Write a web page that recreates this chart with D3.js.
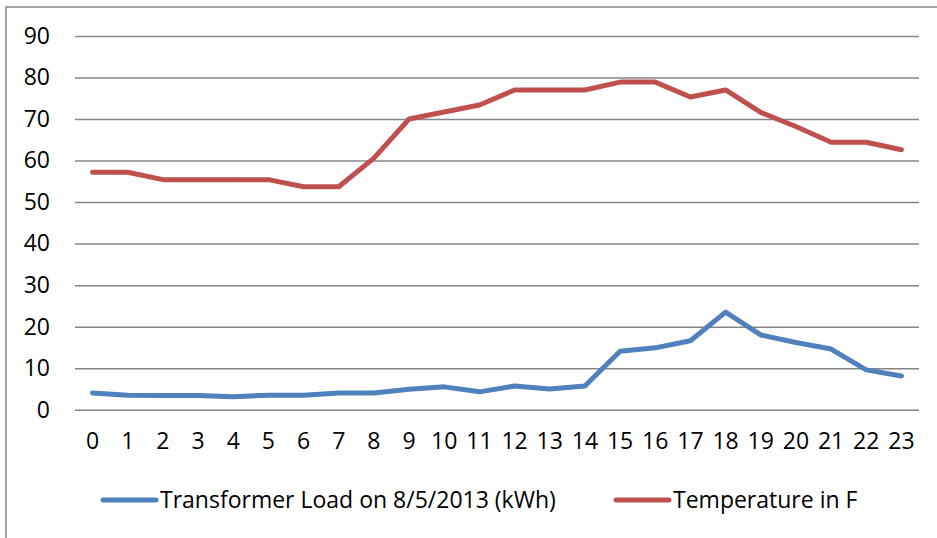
<!DOCTYPE html>
<html>
<head>
<meta charset="utf-8">
<script src="https://cdn.jsdelivr.net/npm/d3@7"></script>
<style>
  body { margin: 0; background: #fff; }
  text { font-family: "Open Sans", sans-serif; fill: #000; }
</style>
</head>
<body>
<svg id="chart"></svg>
<script>
const hours = d3.range(0, 24).map(String);
const loadKwh = [4.0, 3.5, 3.4, 3.4, 3.1, 3.5, 3.5, 4.0, 4.0, 4.9, 5.5, 4.3,
  5.7, 5.0, 5.7, 14.1, 14.9, 16.6, 23.5, 18.0, 16.2, 14.6, 9.6, 8.1];
const tempF = [57.2, 57.2, 55.4, 55.4, 55.4, 55.4, 53.7, 53.7, 60.6, 70.0, 71.7, 73.4,
  77.0, 77.0, 77.0, 78.9, 78.9, 75.3, 77.0, 71.6, 68.2, 64.4, 64.4, 62.6];
const yTicks = [0, 10, 20, 30, 40, 50, 60, 70, 80, 90];
const seriesNames = ['Transformer Load on 8/5/2013 (kWh)', 'Temperature in F'];
const seriesColors = ['#4f81bd', '#c0504d'];

const width = 937;
const height = 538;
const plot = { left: 75, right: 919, top: 36, bottom: 409.7 };
const fontSize = 23;

const svg = d3.select('#chart')
  .attr('width', width)
  .attr('height', height);

// chart frame (only top and left edges fall inside the picture)
svg.append('rect')
  .attr('x', 6)
  .attr('y', 7)
  .attr('width', 1000)
  .attr('height', 600)
  .attr('fill', 'none')
  .attr('stroke', '#868686')
  .attr('stroke-width', 1.5);

const xScale = d3.scaleBand()
  .domain(hours)
  .range([plot.left, plot.right]);

const yScale = d3.scaleLinear()
  .domain([0, 90])
  .range([plot.bottom, plot.top]);

// gridlines
svg.append('g')
  .attr('class', 'grid')
  .attr('transform', `translate(${plot.left}, 0)`)
  .call(d3.axisRight(yScale).tickValues(yTicks).tickSize(plot.right - plot.left).tickFormat(''))
  .call((g) => g.select('.domain').remove())
  .call((g) => g.selectAll('line').attr('stroke', '#868686').attr('stroke-width', 1.5));

// y axis labels
svg.append('g')
  .attr('transform', `translate(${plot.left}, 0)`)
  .call(d3.axisLeft(yScale).tickValues(yTicks).tickSize(0).tickPadding(25))
  .call((g) => g.select('.domain').remove())
  .call((g) => g.selectAll('text')
    .attr('font-size', fontSize)
    .attr('font-family', '"Open Sans", sans-serif')
    .attr('fill', '#000'));

// x axis labels
svg.append('g')
  .attr('transform', `translate(0, ${plot.bottom})`)
  .call(d3.axisBottom(xScale).tickSize(0).tickPadding(23))
  .call((g) => g.select('.domain').remove())
  .call((g) => g.selectAll('text')
    .attr('font-size', fontSize)
    .attr('font-family', '"Open Sans", sans-serif')
    .attr('fill', '#000'));

const line = d3.line()
  .x((d, i) => xScale(hours[i]) + xScale.bandwidth() / 2)
  .y((d) => yScale(d));

[loadKwh, tempF].forEach((values, i) => {
  svg.append('path')
    .datum(values)
    .attr('d', line)
    .attr('fill', 'none')
    .attr('stroke', seriesColors[i])
    .attr('stroke-width', 5)
    .attr('stroke-linejoin', 'round')
    .attr('stroke-linecap', 'round');
});

// legend
const legendX = [103, 616];
const legend = svg.append('g');
seriesNames.forEach((name, i) => {
  legend.append('line')
    .attr('x1', legendX[i])
    .attr('x2', legendX[i] + 53)
    .attr('y1', 500)
    .attr('y2', 500)
    .attr('stroke', seriesColors[i])
    .attr('stroke-width', 5)
    .attr('stroke-linecap', 'round');
  legend.append('text')
    .attr('x', legendX[i] + 57)
    .attr('y', 508)
    .attr('font-size', fontSize)
    .text(name);
});
</script>
</body>
</html>
